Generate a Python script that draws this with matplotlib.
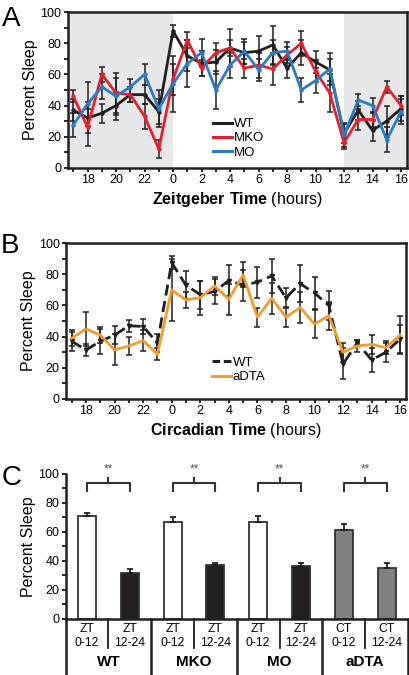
import numpy as np
import matplotlib
matplotlib.use("Agg")
import matplotlib.pyplot as plt
from matplotlib.ticker import MultipleLocator
from matplotlib.lines import Line2D

plt.rcParams['font.family'] = ['Liberation Sans', 'DejaVu Sans']
plt.rcParams['mathtext.fontset'] = 'custom'
plt.rcParams['mathtext.rm'] = 'Liberation Sans'
plt.rcParams['mathtext.bf'] = 'Liberation Sans:bold'

# --- data ---
hours = [17, 18, 19, 20, 21, 22, 23, 24, 25, 26, 27, 28, 29, 30, 31, 32, 33, 34, 35, 36, 37, 38, 39, 40]
tick_pos = [18, 20, 22, 24, 26, 28, 30, 32, 34, 36, 38, 40]
tick_labels = ['18', '20', '22', '0', '2', '4', '6', '8', '10', '12', '14', '16']

wt_a = [37, 32, 35, 40, 47, 47, 36, 88, 72, 67, 68, 77, 74, 75, 79, 64, 74, 68, 63, 22, 37, 24, 30, 38]
wt_a_err = [7, 10, 6, 9, 5, 6, 8, 4, 10, 8, 8, 12, 7, 10, 12, 6, 8, 7, 7, 6, 6, 7, 10, 8]
mko_a = [46, 26, 60, 48, 47, 33, 12, 57, 82, 64, 74, 77, 64, 66, 63.5, 72.5, 80, 62, 48, 16, 31, 31, 52, 40]
mko_a_err = [4, 12, 5, 13, 5, 8, 6, 10, 5, 5, 6, 5, 6, 8, 10, 5, 8, 7, 12, 4, 7, 5, 4, 6]
mo_a = [27.5, 41, 52, 46, 52, 60, 38, 54, 67, 74, 50, 66, 75, 63, 74, 75, 50, 56, 63.5, 21, 43.5, 40, 18, 36]
mo_a_err = [8, 14, 8, 12, 5, 7, 12, 18, 15, 9, 12, 8, 8, 7, 8, 6, 8, 8, 10, 8, 4, 5, 8, 8]

wt_b = [37, 31.5, 37, 41, 47, 46.5, 36, 87.5, 73, 67, 69, 76, 73, 75, 79, 65, 74, 68, 60, 22.5, 36, 25, 30, 38.5]
wt_b_err = [6, 4, 8, 6, 4, 5, 6, 4, 9, 9, 8, 10, 10, 10, 11, 6, 12, 10, 9, 10, 2, 8, 6, 9]
dta_b = [39, 45, 41, 31.5, 34, 37.5, 28.7, 70, 63.6, 65, 72.6, 64, 79.7, 52.5, 64.7, 52.5, 58.7, 48, 53.5, 30, 34, 35, 33, 41]
dta_b_err = [5, 11, 5, 10, 6, 7, 4, 20, 5, 11, 6, 10, 8, 6, 10, 6, 10, 9, 9, 6, 4, 6, 4, 12]

groups = ['WT', 'MKO', 'MO', 'aDTA']
bar_top = ['ZT', 'ZT', 'ZT', 'ZT', 'ZT', 'ZT', 'CT', 'CT']
bar_bottom = ['0-12', '12-24', '0-12', '12-24', '0-12', '12-24', '0-12', '12-24']
c_vals = [71, 32, 67, 37, 67, 36.5, 61.5, 35.5]
c_err = [2.3, 2.8, 3.5, 1.5, 4, 2.3, 3.9, 3.4]
c_colors = ['white', '#231f20', 'white', '#231f20', 'white', '#231f20', '#808080', '#808080']

BLACK = '#231f20'
RED = '#e3202e'
BLUE = '#2b7bc0'
ORANGE = '#f29b2e'
SHADE = '#e6e7e8'

fig = plt.figure(figsize=(4.1, 6.75), dpi=100)


def style_time_axis(ax):
    ax.set_xlim(16.6, 40.4)
    ax.set_ylim(0, 100)
    ax.set_xticks(tick_pos)
    ax.set_xticklabels(tick_labels)
    ax.xaxis.set_minor_locator(MultipleLocator(1))
    ax.yaxis.set_major_locator(MultipleLocator(20))
    ax.yaxis.set_minor_locator(MultipleLocator(10))
    ax.tick_params(which='both', direction='out', length=3, width=1.2, labelsize=9, pad=1.5)
    for s in ax.spines.values():
        s.set_linewidth(1.8)
        s.set_color(BLACK)
    ax.set_ylabel('Percent Sleep', fontsize=11.5, labelpad=2)


# ---------- panel A ----------
axA = fig.add_axes([0.165, 0.7516, 0.827, 0.2302])
axA.axvspan(16.6, 24, color=SHADE, lw=0, zorder=0)
axA.axvspan(36, 40.4, color=SHADE, lw=0, zorder=0)
for y, e in [(wt_a, wt_a_err), (mko_a, mko_a_err), (mo_a, mo_a_err)]:
    axA.errorbar(hours, y, yerr=e, fmt='none', ecolor=BLACK, elinewidth=1.1, capsize=2.2, capthick=1.1, zorder=2)
for y, c in [(wt_a, BLACK), (mko_a, RED), (mo_a, BLUE)]:
    axA.plot(hours, y, color=c, lw=2.0, marker='o', ms=2.2, zorder=3)
style_time_axis(axA)
axA.set_xlabel(r'$\bf{Zeitgeber\ Time}$ (hours)', fontsize=11.5, labelpad=3)
handles_a = [Line2D([], [], color=c, lw=2.2) for c in (BLACK, RED, BLUE)]
axA.legend(handles_a, ['WT', 'MKO', 'MO'], loc='upper left', bbox_to_anchor=(0.43, 0.32),
           frameon=False, fontsize=9.5, handlelength=1.4, handletextpad=0.15, labelspacing=0.15,
           borderaxespad=0, borderpad=0)

# ---------- panel B ----------
axB = fig.add_axes([0.161, 0.409, 0.829, 0.2307])
axB.errorbar(hours, wt_b, yerr=wt_b_err, fmt='none', ecolor=BLACK, elinewidth=1.1, capsize=2.2, capthick=1.1, zorder=2)
axB.errorbar(hours, dta_b, yerr=dta_b_err, fmt='none', ecolor=BLACK, elinewidth=1.1, capsize=2.2, capthick=1.1, zorder=2)
axB.plot(hours, wt_b, color=BLACK, lw=2.0, ls=(0, (4, 2)), marker='v', ms=3, zorder=3)
axB.plot(hours, dta_b, color=ORANGE, lw=2.0, zorder=4)
style_time_axis(axB)
axB.set_xlabel(r'$\bf{Circadian\ Time}$ (hours)', fontsize=11.5, labelpad=3)
handles_b = [Line2D([], [], color=BLACK, lw=2.2, ls=(0, (2.5, 1.2))), Line2D([], [], color=ORANGE, lw=2.2)]
axB.legend(handles_b, ['WT', 'aDTA'], loc='upper left', bbox_to_anchor=(0.43, 0.27),
           frameon=False, fontsize=9.5, handlelength=1.4, handletextpad=0.15, labelspacing=0.15,
           borderaxespad=0, borderpad=0)

# ---------- panel C ----------
axC = fig.add_axes([0.160, 0.083, 0.835, 0.2148])
xpos = np.arange(len(c_vals))
axC.bar(xpos, c_vals, width=0.42, color=c_colors, edgecolor='#333333', linewidth=1.3,
        yerr=[[0] * len(c_err), c_err], error_kw=dict(ecolor=BLACK, elinewidth=1.3, capsize=2.5, capthick=1.3))
axC.set_xlim(-0.5, 7.5)
axC.set_ylim(0, 100)
axC.set_xticks([])
axC.yaxis.set_major_locator(MultipleLocator(20))
axC.yaxis.set_minor_locator(MultipleLocator(10))
axC.tick_params(which='both', direction='out', length=3, width=1.2, labelsize=9, pad=1.5)
axC.spines['top'].set_visible(False)
axC.spines['right'].set_visible(False)
for s in ['left', 'bottom']:
    axC.spines[s].set_linewidth(1.8)
    axC.spines[s].set_color(BLACK)
axC.set_ylabel('Percent Sleep', fontsize=11.5, labelpad=2)

tr = axC.get_xaxis_transform()
# table lines under the axis
for xl in [-0.5, 1.5, 3.5, 5.5, 7.5]:
    axC.plot([xl, xl], [0, -0.40], transform=tr, color=BLACK, lw=1.8, clip_on=False)
for xl in [0.5, 2.5, 4.5, 6.5]:
    axC.plot([xl, xl], [0, -0.2], transform=tr, color=BLACK, lw=1.3, clip_on=False)
for i in range(len(c_vals)):
    axC.text(xpos[i], -0.07, bar_top[i], transform=tr, ha='center', va='center', fontsize=8.8)
    axC.text(xpos[i], -0.165, bar_bottom[i], transform=tr, ha='center', va='center', fontsize=8.8)
for g, name in enumerate(groups):
    axC.text(2 * g + 0.5, -0.30, name, transform=tr, ha='center', va='center', fontsize=11, fontweight='bold')

# significance brackets
for g in range(len(groups)):
    x0, x1 = 2 * g, 2 * g + 1
    xm = (x0 + x1) / 2
    axC.plot([x0, x0, x1, x1], [88, 94, 94, 88], color='#333333', lw=1.5, clip_on=False)
    axC.plot([xm, xm], [94, 97.5], color='#333333', lw=1.5, clip_on=False)
    axC.text(xm, 99, '**', ha='center', va='bottom', fontsize=8.5, color='#555555', clip_on=False)

# panel letters
fig.text(0.005, 0.972, 'A', fontsize=20, va='center', ha='left')
fig.text(0.002, 0.635, 'B', fontsize=20, va='center', ha='left')
fig.text(0.005, 0.292, 'C', fontsize=20, va='center', ha='left')

fig.savefig('out.png', dpi=100)
